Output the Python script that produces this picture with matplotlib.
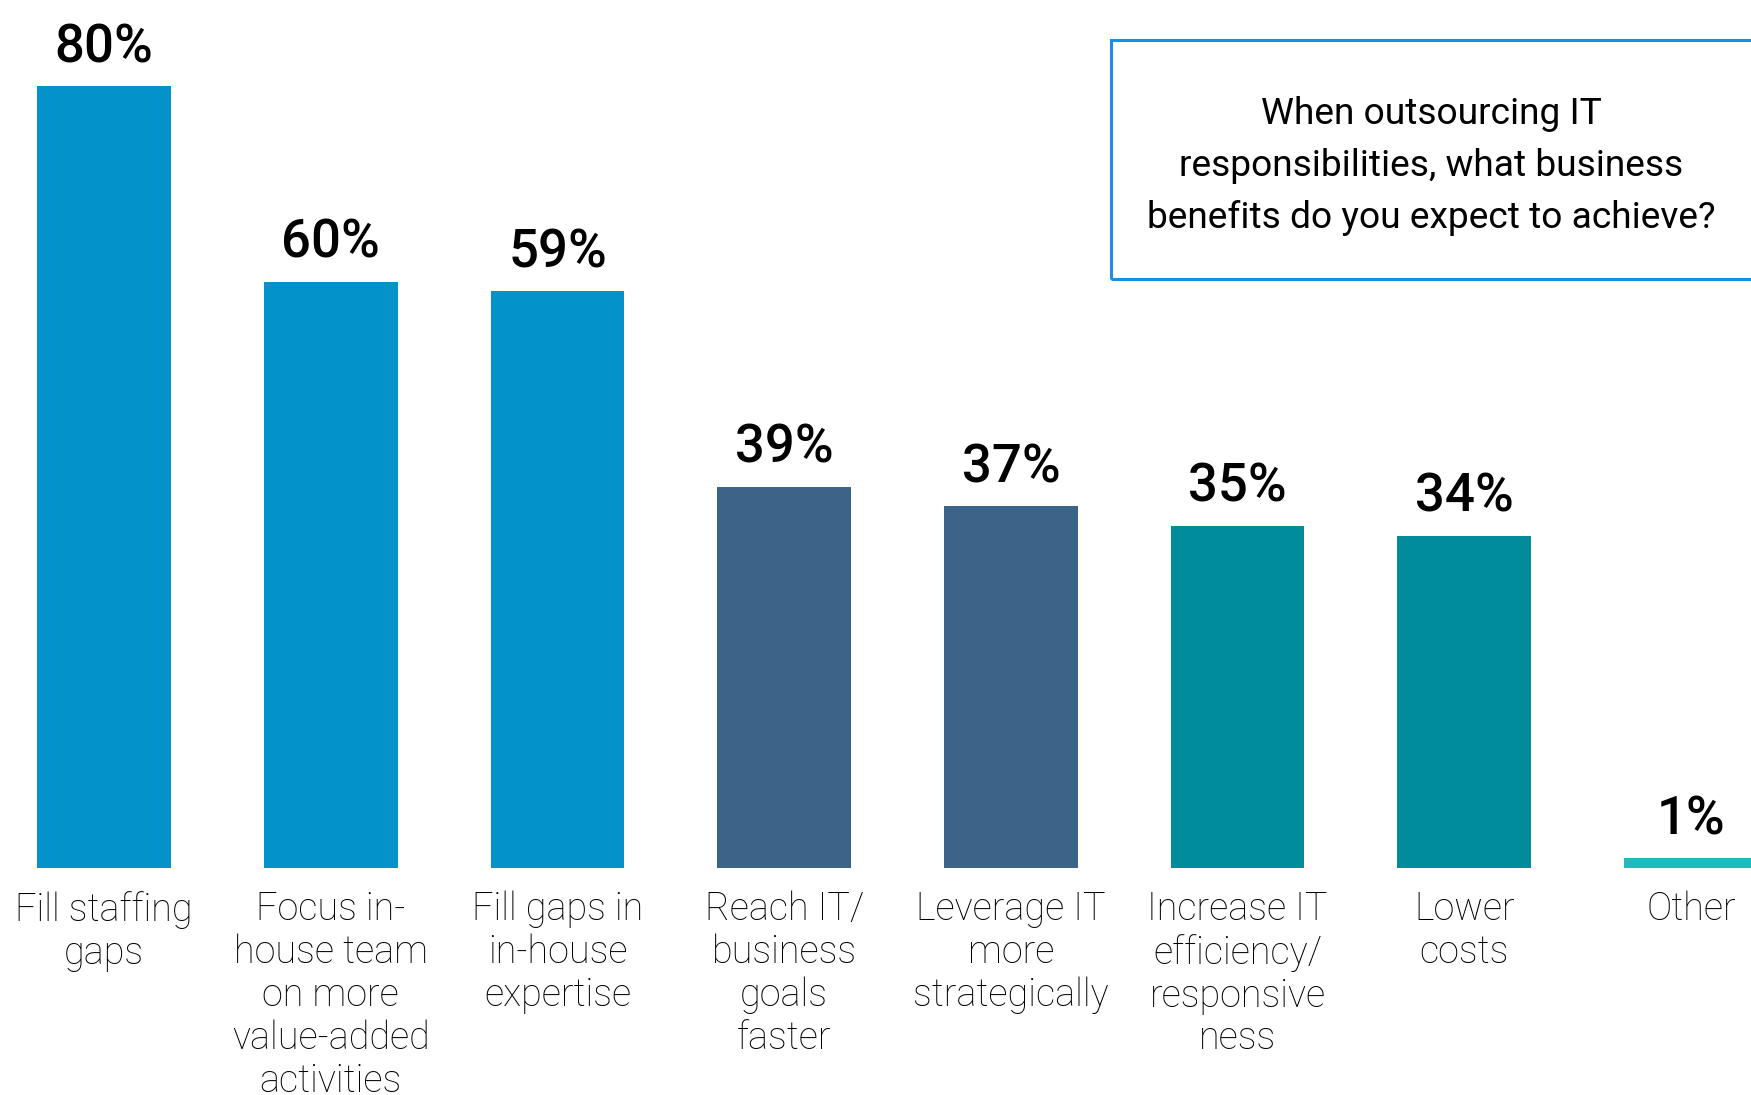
import matplotlib.pyplot as plt
from matplotlib.patches import Rectangle

categories = [
    "Fill staffing\ngaps",
    "Focus in-\nhouse team\non more\nvalue-added\nactivities",
    "Fill gaps in\nin-house\nexpertise",
    "Reach IT/\nbusiness\ngoals\nfaster",
    "Leverage IT\nmore\nstrategically",
    "Increase IT\nefficiency/\nresponsive\nness",
    "Lower\ncosts",
    "Other",
]
values = [80, 60, 59, 39, 37, 35, 34, 1]
colors = ["#0392CA", "#0392CA", "#0392CA", "#3C6489", "#3C6489",
          "#008C9A", "#008C9A", "#1BBBBE"]
question = "When outsourcing IT\nresponsibilities, what business\nbenefits do you expect to achieve?"

W, H = 1751, 1095
fig = plt.figure(figsize=(W / 100, H / 100), dpi=100)
base = 227
ax = fig.add_axes([0, base / H, 1, (H - base) / H])
ax.axis("off")

x = list(range(len(values)))
ax.bar(x, values, width=0.59, color=colors)
ax.set_xlim(-0.459, 7.265)
ax.set_ylim(0, 88.8)

for i, v in enumerate(values):
    ax.annotate(f"{v}%", (i, v), xytext=(0, 24), textcoords="offset pixels",
                ha="center", va="baseline", fontsize=38, fontweight="medium",
                family="Roboto", color="black")
    ax.text(i, -2.35, categories[i], ha="center", va="top", fontsize=27.2,
            fontweight="light", family="Roboto", color="black",
            linespacing=1.18)

# question box, running off the right edge
box = Rectangle((1111 / W, 1 - 279 / H), 700 / W, 239 / H,
                transform=fig.transFigure, fill=False,
                edgecolor="#1591E8", linewidth=2.2)
fig.patches.append(box)
fig.text(1431 / W, 1 - 166 / H, question, ha="center", va="center",
         fontsize=26.7, family="Roboto", color="black", linespacing=1.57)

fig.savefig("out.png", dpi=100)
